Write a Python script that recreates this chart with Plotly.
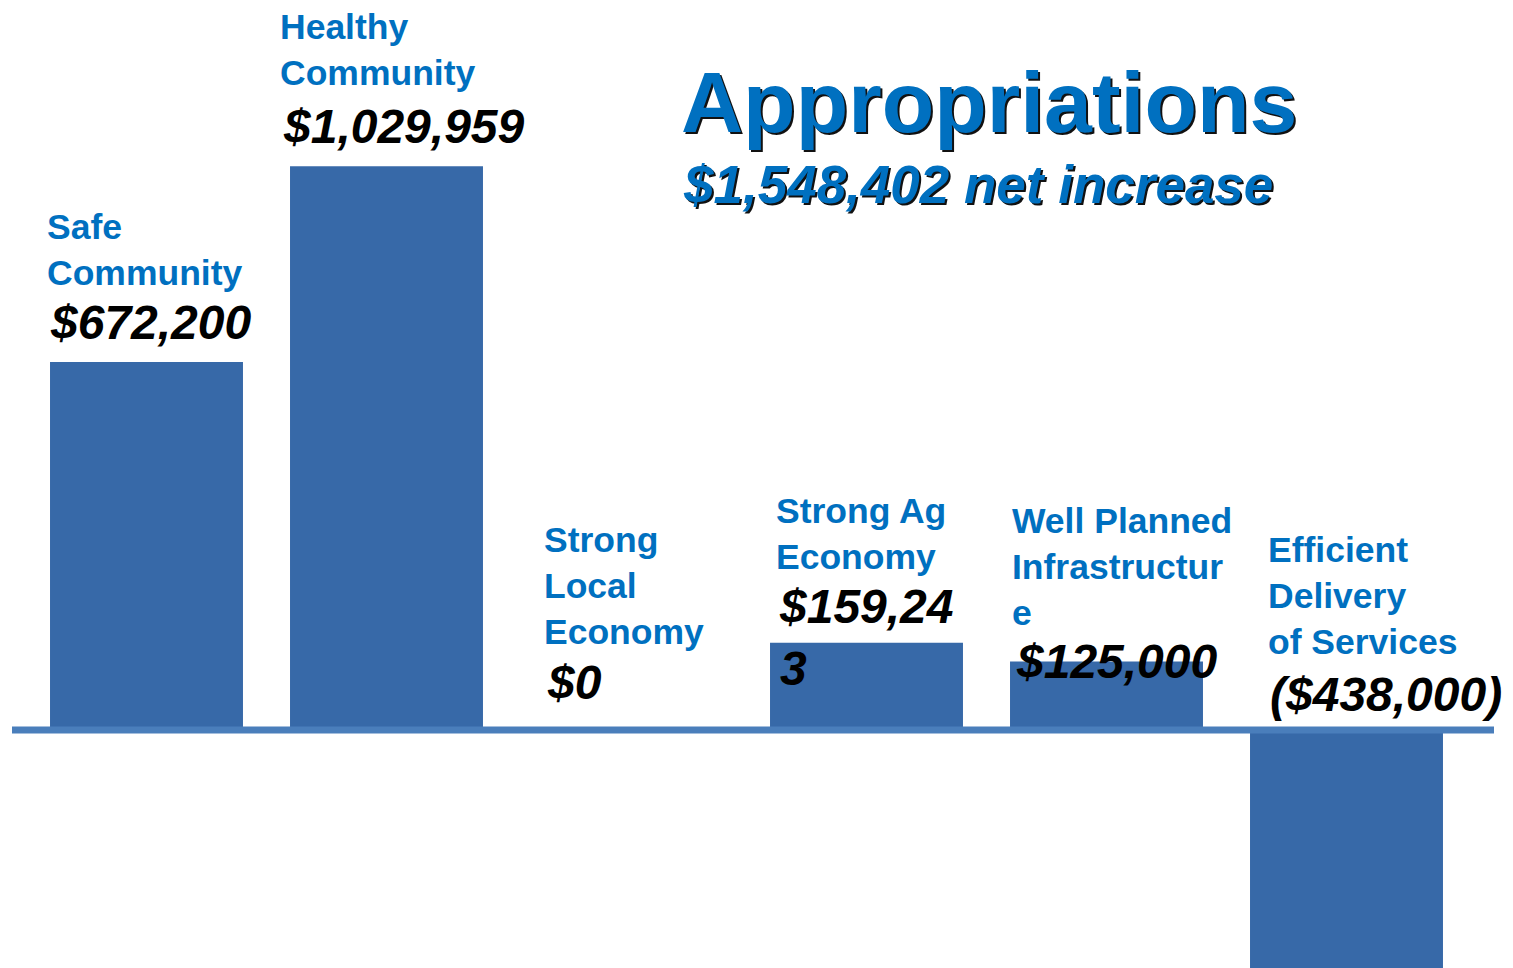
import plotly.graph_objects as go

# ---------------- data ----------------
categories = ["Safe Community", "Healthy Community", "Strong Local Economy",
              "Strong Ag Economy", "Well Planned Infrastructure",
              "Efficient Delivery of Services"]
name_labels = ["Safe<br>Community", "Healthy<br>Community", "Strong<br>Local<br>Economy",
               "Strong Ag<br>Economy", "Well Planned<br>Infrastructur<br>e",
               "Efficient<br>Delivery<br>of Services"]
values = [672200, 1029959, 0, 159243, 125000, -438000]
value_labels = ["$672,200", "$1,029,959", "$0", "$159,24<br>3", "$125,000", "($438,000)"]
title_text = "Appropriations"
subtitle_text = "$1,548,402 net increase"

# ---------------- layout helpers ----------------
W, H = 1513, 968
BLUE = "#0070c0"
BAR = "#3769a8"
LINE = "#4a7ebb"
FONT = "Liberation Sans, Arial, sans-serif"

def py(px):  # pixel (from top) -> paper y
    return 1 - px / H

def px_x(px):  # pixel -> paper x
    return px / W

fig = go.Figure()
fig.add_trace(go.Bar(
    x=categories, y=values, width=0.804,
    marker=dict(color=BAR, line=dict(width=0)),
    hoverinfo="x+y",
))

# label placement (pixels): left x, top of first line
name_pos = [(45, 205), (278, 5), (542, 518), (774, 489), (1010, 499), (1266, 528)]
value_pos = [(48, 294), (281, 98), (545, 654), (777, 578), (1014, 633), (1268, 666)]

annotations = []
for (x, y), t in zip(name_pos, name_labels):
    annotations.append(dict(
        xref="paper", yref="paper", x=px_x(x), y=py(y), xanchor="left", yanchor="top",
        text=t, showarrow=False, align="left",
        font=dict(family=FONT, size=35.5, color=BLUE, weight="bold"),
    ))
for (x, y), t in zip(value_pos, value_labels):
    annotations.append(dict(
        xref="paper", yref="paper", x=px_x(x), y=py(y), xanchor="left", yanchor="top",
        text=t, showarrow=False, align="left",
        font=dict(family=FONT, size=48, color="black", weight="bold", style="italic"),
    ))

# title + subtitle with drop shadow
for dx, dy, col in [(2, 2, "#111111"), (0, 0, BLUE)]:
    annotations.append(dict(
        xref="paper", yref="paper", x=px_x(679 + dx), y=py(52 + dy),
        xanchor="left", yanchor="top", text=title_text, showarrow=False,
        font=dict(family=FONT, size=86, color=col, weight="bold"),
    ))
    annotations.append(dict(
        xref="paper", yref="paper", x=px_x(681 + dx), y=py(153 + dy),
        xanchor="left", yanchor="top", text=subtitle_text, showarrow=False,
        font=dict(family=FONT, size=53, color=col, weight="bold", style="italic"),
    ))

fig.update_layout(
    width=W, height=H,
    margin=dict(l=0, r=0, t=0, b=0),
    paper_bgcolor="white", plot_bgcolor="white",
    showlegend=False,
    annotations=annotations,
    xaxis=dict(domain=[12 / W, 1494 / W], range=[-0.5604, 5.6146],
               showticklabels=False, showgrid=False, zeroline=False, ticks=""),
    yaxis=dict(range=[-435000, 1333700], showticklabels=False, showgrid=False,
               zeroline=False, ticks=""),
    shapes=[dict(type="line", xref="paper", yref="y", x0=12 / W, x1=1494 / W, y0=0, y1=0,
                 line=dict(color=LINE, width=7), layer="above")],
)

fig.write_html(
    "out.html",
    config={"displayModeBar": False},
    post_script="document.body.style.margin='0';document.body.style.overflow='hidden';",
)
